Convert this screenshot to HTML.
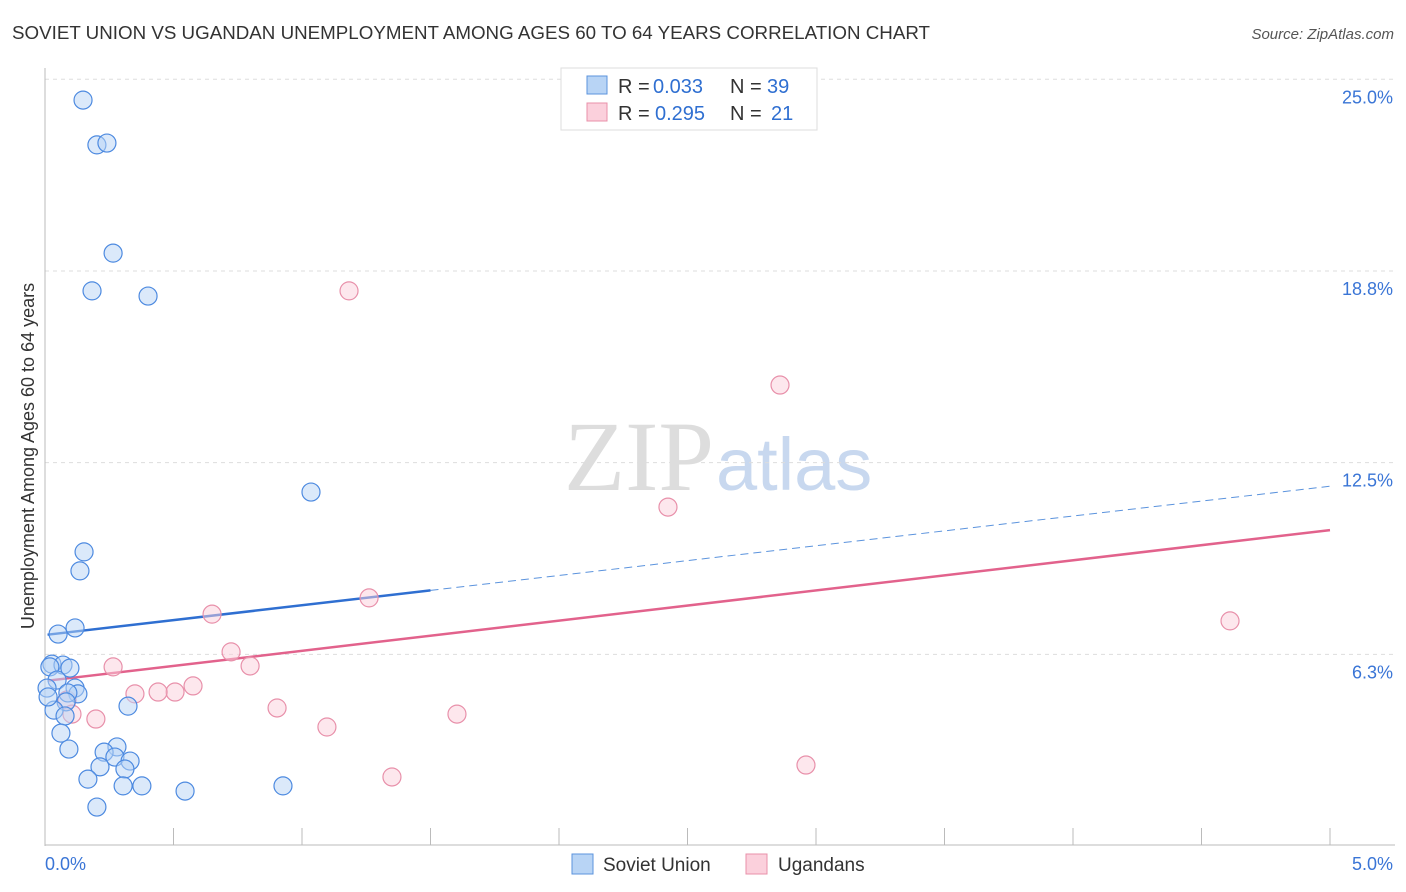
<!DOCTYPE html>
<html><head><meta charset="utf-8"><style>
body{margin:0;background:#fff;font-family:"Liberation Sans",sans-serif;}
#wrap{position:relative;width:1406px;height:892px;overflow:hidden;}
</style></head><body>
<div id="wrap">
<svg id="svg" width="1406" height="892" xmlns="http://www.w3.org/2000/svg">
<text x="12" y="39" font-size="18" fill="#333" textLength="918" lengthAdjust="spacingAndGlyphs">SOVIET UNION VS UGANDAN UNEMPLOYMENT AMONG AGES 60 TO 64 YEARS CORRELATION CHART</text>
<text x="1394" y="39" font-size="15" fill="#555" text-anchor="end" font-style="italic">Source: ZipAtlas.com</text>
<text x="714" y="490" font-size="100" fill="#ddd" text-anchor="end" font-family="Liberation Serif,serif">ZIP</text>
<text x="716" y="490" font-size="74" fill="#c8d8ef">atlas</text>
<text transform="translate(34,456) rotate(-90)" font-size="18" fill="#333" text-anchor="middle">Unemployment Among Ages 60 to 64 years</text>
<g id="grid"></g><g id="axes"></g><g id="lines"></g><g id="pts"></g>
<g>
<rect x="561" y="68" width="256" height="62" fill="#fff" stroke="#ddd"/>
<rect x="587" y="76" width="20" height="18" fill="#b8d4f5" stroke="#5b93dd"/>
<text x="618" y="93" font-size="20" fill="#333">R = </text>
<text x="653" y="93" font-size="20" fill="#2f6fd1">0.033</text>
<text x="730" y="93" font-size="20" fill="#333">N = </text>
<text x="767" y="93" font-size="20" fill="#2f6fd1">39</text>
<rect x="587" y="103" width="20" height="18" fill="#fbd0dc" stroke="#e890aa"/>
<text x="618" y="120" font-size="20" fill="#333">R = </text>
<text x="655" y="120" font-size="20" fill="#2f6fd1">0.295</text>
<text x="730" y="120" font-size="20" fill="#333">N = </text>
<text x="771" y="120" font-size="20" fill="#2f6fd1">21</text>
</g>
<g>
<rect x="572" y="854" width="21" height="20" fill="#b8d4f5" stroke="#5b93dd"/>
<text x="603" y="871" font-size="19" fill="#333">Soviet Union</text>
<rect x="746" y="854" width="21" height="20" fill="#fbd0dc" stroke="#e890aa"/>
<text x="778" y="871" font-size="19" fill="#333">Ugandans</text>
</g>
</svg>
</div>
<script>
const yTicks=[6.3,12.5,18.8,25.0];
const yTickLabels=["6.3%","12.5%","18.8%","25.0%"];
const xTickLabels=["0.0%","5.0%"];
const blueX=[0.148,0.202,0.241,0.265,0.183,0.401,1.035,0.152,0.136,0.051,0.117,0.027,0.070,0.097,0.019,0.047,0.008,0.117,0.128,0.089,0.082,0.035,0.078,0.323,0.062,0.093,0.280,0.230,0.272,0.331,0.214,0.311,0.167,0.304,0.377,0.202,0.545,0.926,0.012];
const blueY=[24.32,22.86,22.92,19.33,18.10,17.93,11.54,9.59,8.97,6.91,7.11,5.93,5.90,5.80,5.84,5.41,5.15,5.15,4.96,4.99,4.70,4.43,4.24,4.56,3.68,3.16,3.23,3.06,2.90,2.77,2.58,2.51,2.18,1.96,1.96,1.27,1.79,1.96,4.86];
const pinkX=[1.183,2.860,2.424,0.650,1.261,4.611,0.724,0.798,0.265,0.576,0.506,0.440,0.350,0.086,0.903,1.603,0.105,0.198,1.097,2.961,1.350];
const pinkY=[18.10,15.03,11.05,7.56,8.09,7.34,6.33,5.87,5.84,5.22,5.02,5.02,4.96,4.76,4.50,4.30,4.30,4.14,3.88,2.64,2.25];
const blueTrend=[6.88,11.73];
const pinkTrend=[5.38,10.30];
const NS="http://www.w3.org/2000/svg";
const X0=45,X1=1330,Y0=846,PPU=30.67;
const sx=v=>X0+(X1-X0)*v/5;
const sy=v=>Y0-v*PPU;
function mk(tag,attrs,parent){const e=document.createElementNS(NS,tag);for(const k in attrs)e.setAttribute(k,attrs[k]);document.getElementById(parent).appendChild(e);return e;}
yTicks.forEach((t,i)=>{
 const y=sy(t===6.3?6.25:t===18.8?18.75:t);
 const g=mk('line',{x1:X0,x2:1395,y1:y,y2:y,stroke:'#ddd','stroke-dasharray':'4,4'},'grid');
 
 
 const l=mk('text',{x:1393,y:y+24,'font-size':18,fill:'#3a75d6','text-anchor':'end'},'grid');
 l.textContent=yTickLabels[i];
 
 
});
const ya=mk('line',{x1:X0,x2:X0,y1:68,y2:846,stroke:'#bbb'},'axes');


const xa=mk('line',{x1:X0,x2:1395,y1:845,y2:845,stroke:'#bbb'},'axes');


for(let k=1;k<=10;k++){
 const x=sx(k*0.5);
 const t=mk('line',{x1:x,x2:x,y1:828,y2:845,stroke:'#bbb'},'axes');
 
 
}
xTickLabels.forEach((s,i)=>{
 const t=mk('text',{x:i?1393:45,y:870,'font-size':18,fill:'#3a75d6','text-anchor':i?'end':'start'},'axes');
 t.textContent=s;
 
 
});
function pts(xs,ys,fill,stroke,name){
 xs.forEach((v,i)=>{
  const c=mk('circle',{cx:sx(v),cy:sy(ys[i]),r:9,fill:fill,'fill-opacity':0.5,stroke:stroke,'stroke-width':1.2},'pts');
  
  
 });
}
pts(pinkX,pinkY,'#fbd0dc','#e890aa','ugandans-point');
pts(blueX,blueY,'#b8d4f5','#4d8ae0','soviet-union-point');
const bAt=v=>blueTrend[0]+(blueTrend[1]-blueTrend[0])*v/5;
const pAt=v=>pinkTrend[0]+(pinkTrend[1]-pinkTrend[0])*v/5;
const b1=mk('line',{x1:sx(0.01),y1:sy(bAt(0.01)),x2:sx(1.5),y2:sy(bAt(1.5)),stroke:'#2f6fd1','stroke-width':2.5},'lines');


const b2=mk('line',{x1:sx(1.5),y1:sy(bAt(1.5)),x2:sx(5),y2:sy(bAt(5)),stroke:'#5b93dd','stroke-width':1,'stroke-dasharray':'8,5'},'lines');


const p1=mk('line',{x1:sx(0.01),y1:sy(pAt(0.01)),x2:sx(5),y2:sy(pAt(5)),stroke:'#e2628c','stroke-width':2.5},'lines');


</script>
</body></html>
